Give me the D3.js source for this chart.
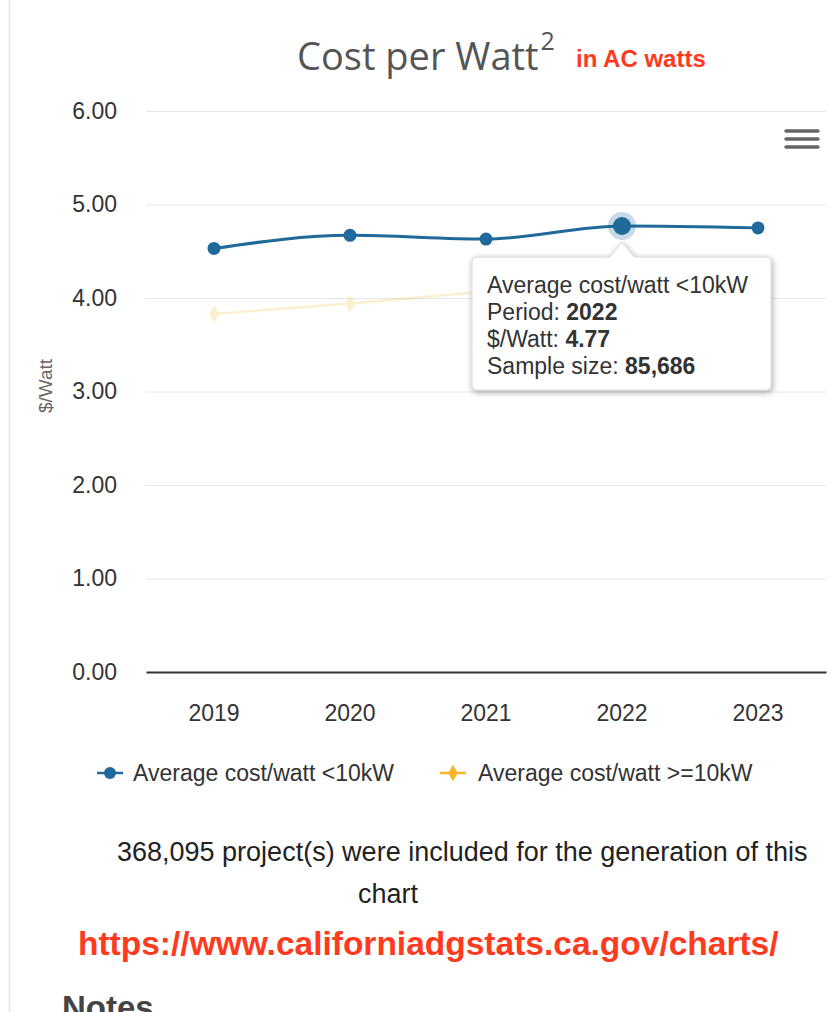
<!DOCTYPE html>
<html>
<head>
<meta charset="utf-8">
<script src="https://cdn.jsdelivr.net/npm/d3@7"></script>
<style>
  html, body { margin: 0; padding: 0; background: #fff; }
  svg { display: block; }
</style>
</head>
<body>
<svg id="chart" width="831" height="1012"></svg>
<script>
// Chart data
const years = ["2019", "2020", "2021", "2022", "2023"];
const costSmall = [4.53, 4.67, 4.63, 4.77, 4.75];   // Average cost/watt <10kW
const costLarge = [3.83, 3.94, 4.07, 4.22, 4.19];   // Average cost/watt >=10kW
const sampleSmall = [null, null, null, 85686, null];
const yTicks = [0, 1, 2, 3, 4, 5, 6];
const seriesNames = ["Average cost/watt <10kW", "Average cost/watt >=10kW"];
const hoverIndex = 3;

const W = 831, H = 1012;
const svg = d3.select("#chart");
const FONT = "'Liberation Sans', Helvetica, Arial, sans-serif";
const BLUE = "#1f6a9b";
const ORANGE = "#f7b52c";
const RED = "#ff3a1f";

const plot = { left: 146, right: 826, top: 111, bottom: 672 };

const x = d3.scaleBand().domain(years).range([plot.left, plot.right]);
const y = d3.scaleLinear().domain([0, 6]).range([plot.bottom, plot.top]);
const cx = d => x(d) + x.bandwidth() / 2;

// defs: tooltip shadow
const defs = svg.append("defs");
const f = defs.append("filter").attr("id", "shadow").attr("x", "-20%").attr("y", "-20%").attr("width", "140%").attr("height", "150%");
f.append("feGaussianBlur").attr("in", "SourceAlpha").attr("stdDeviation", 3);
f.append("feOffset").attr("dx", 1).attr("dy", 2).attr("result", "b");
f.append("feComponentTransfer").append("feFuncA").attr("type", "linear").attr("slope", 0.35);
const m = f.append("feMerge");
m.append("feMergeNode");
m.append("feMergeNode").attr("in", "SourceGraphic");

// page border on the left
svg.append("line").attr("x1", 9.5).attr("x2", 9.5).attr("y1", 0).attr("y2", H)
  .attr("stroke", "#e3e3e3").attr("stroke-width", 1.5);

// Title
const title = svg.append("text").attr("x", 297).attr("y", 70)
  .attr("font-family", "'Open Sans', sans-serif").attr("font-size", 38).attr("fill", "#555");
title.append("tspan").text("Cost per Watt");
title.append("tspan").attr("dy", -20).attr("dx", 2).attr("font-size", 25).text("2");
svg.append("text").attr("x", 576).attr("y", 67)
  .attr("font-family", FONT).attr("font-weight", "bold").attr("font-size", 24).attr("fill", RED)
  .text("in AC watts");

// menu icon
[131, 139, 147].forEach(yy => {
  svg.append("line").attr("x1", 786).attr("x2", 818).attr("y1", yy).attr("y2", yy)
    .attr("stroke", "#666").attr("stroke-width", 3.5).attr("stroke-linecap", "round");
});

// Grid lines + y labels
const yAxis = d3.axisLeft(y).tickValues(yTicks).tickFormat(d3.format(".2f"))
  .tickSize(-(plot.right - plot.left)).tickPadding(29);
const gy = svg.append("g").attr("transform", `translate(${plot.left},0)`).call(yAxis);
gy.select(".domain").remove();
gy.selectAll(".tick line").attr("stroke", "#e6e6e6").attr("stroke-width", 1);
gy.selectAll(".tick text").attr("font-family", FONT).attr("font-size", 23).attr("fill", "#333");

// y axis title
svg.append("text").attr("transform", "translate(52,386) rotate(-90)")
  .attr("text-anchor", "middle").attr("font-family", FONT).attr("font-size", 19).attr("fill", "#666")
  .text("$/Watt");

// x axis
const xAxis = d3.axisBottom(x).tickSize(0).tickPadding(33);
const gx = svg.append("g").attr("transform", `translate(0,${plot.bottom})`).call(xAxis);
gx.select(".domain").attr("stroke", "#333").attr("stroke-width", 2);
gx.selectAll(".tick text").attr("font-family", FONT).attr("font-size", 23).attr("fill", "#333");

// lines
const line = d3.line().x((d, i) => cx(years[i])).y(d => y(d)).curve(d3.curveMonotoneX);

// dimmed (inactive) >=10kW series
const gL = svg.append("g").attr("opacity", 0.22);
gL.append("path").datum(costLarge).attr("d", line).attr("fill", "none")
  .attr("stroke", ORANGE).attr("stroke-width", 2.5);
gL.selectAll("path.pt").data(costLarge).join("path").attr("class", "pt")
  .attr("transform", (d, i) => `translate(${cx(years[i])},${y(d)})`)
  .attr("d", d3.symbol(d3.symbolDiamond, 90)).attr("fill", ORANGE);

// <10kW series
svg.append("path").datum(costSmall).attr("d", line).attr("fill", "none")
  .attr("stroke", BLUE).attr("stroke-width", 3);
svg.append("circle").attr("cx", cx(years[hoverIndex])).attr("cy", y(costSmall[hoverIndex]))
  .attr("r", 14).attr("fill", BLUE).attr("opacity", 0.25);
svg.selectAll("circle.pt").data(costSmall).join("circle").attr("class", "pt")
  .attr("cx", (d, i) => cx(years[i])).attr("cy", d => y(d))
  .attr("r", (d, i) => i === hoverIndex ? 9 : 6.5).attr("fill", BLUE);

// Tooltip
const tx = cx(years[hoverIndex]), ty = y(costSmall[hoverIndex]);
const box = { x: 472, y: 257, w: 299, h: 133, r: 4 };
const tip = svg.append("g");
const ax = tx, ay = ty + 16;
const p = d3.path();
p.moveTo(box.x + box.r, box.y);
p.lineTo(ax - 12, box.y); p.lineTo(ax, ay); p.lineTo(ax + 12, box.y);
p.lineTo(box.x + box.w - box.r, box.y);
p.arcTo(box.x + box.w, box.y, box.x + box.w, box.y + box.r, box.r);
p.lineTo(box.x + box.w, box.y + box.h - box.r);
p.arcTo(box.x + box.w, box.y + box.h, box.x + box.w - box.r, box.y + box.h, box.r);
p.lineTo(box.x + box.r, box.y + box.h);
p.arcTo(box.x, box.y + box.h, box.x, box.y + box.h - box.r, box.r);
p.lineTo(box.x, box.y + box.r);
p.arcTo(box.x, box.y, box.x + box.r, box.y, box.r);
p.closePath();
tip.append("path").attr("d", p.toString()).attr("fill", "#fff")
  .attr("stroke", "#d8d8d8").attr("stroke-width", 1).attr("filter", "url(#shadow)");
const fmtInt = d3.format(",");
const tipLines = [
  [[seriesNames[0], false]],
  [["Period: ", false], [years[hoverIndex], true]],
  [["$/Watt: ", false], [d3.format(".2f")(costSmall[hoverIndex]), true]],
  [["Sample size: ", false], [fmtInt(sampleSmall[hoverIndex]), true]]
];
tipLines.forEach((parts, k) => {
  const t = tip.append("text").attr("x", 487).attr("y", 293 + k * 27)
    .attr("font-family", FONT).attr("font-size", 23).attr("fill", "#333");
  parts.forEach(([s, b]) => t.append("tspan").attr("font-weight", b ? "bold" : "normal").text(s));
});

// Legend
const lg = svg.append("g").attr("font-family", FONT).attr("font-size", 23).attr("fill", "#333");
lg.append("line").attr("x1", 97).attr("x2", 123).attr("y1", 773).attr("y2", 773).attr("stroke", BLUE).attr("stroke-width", 2.5);
lg.append("circle").attr("cx", 110).attr("cy", 773).attr("r", 6).attr("fill", BLUE);
lg.append("text").attr("x", 133).attr("y", 781).text(seriesNames[0]);
lg.append("line").attr("x1", 440).attr("x2", 466).attr("y1", 773).attr("y2", 773).attr("stroke", ORANGE).attr("stroke-width", 2.5);
lg.append("path").attr("transform", "translate(453,773)").attr("d", d3.symbol(d3.symbolDiamond, 80)).attr("fill", ORANGE);
lg.append("text").attr("x", 478).attr("y", 781).text(seriesNames[1]);

// Footer text
svg.append("text").attr("x", 117).attr("y", 861).attr("font-family", FONT).attr("font-size", 27).attr("fill", "#222")
  .text("368,095 project(s) were included for the generation of this");
svg.append("text").attr("x", 388).attr("y", 903).attr("text-anchor", "middle").attr("font-family", FONT).attr("font-size", 27).attr("fill", "#222")
  .text("chart");
svg.append("text").attr("x", 78).attr("y", 955).attr("font-family", FONT).attr("font-weight", "bold").attr("font-size", 33.5).attr("fill", RED)
  .text("https://www.californiadgstats.ca.gov/charts/");
svg.append("text").attr("x", 62).attr("y", 1019).attr("font-family", FONT).attr("font-weight", "bold").attr("font-size", 33).attr("fill", "#444")
  .text("Notes");
</script>
</body>
</html>
